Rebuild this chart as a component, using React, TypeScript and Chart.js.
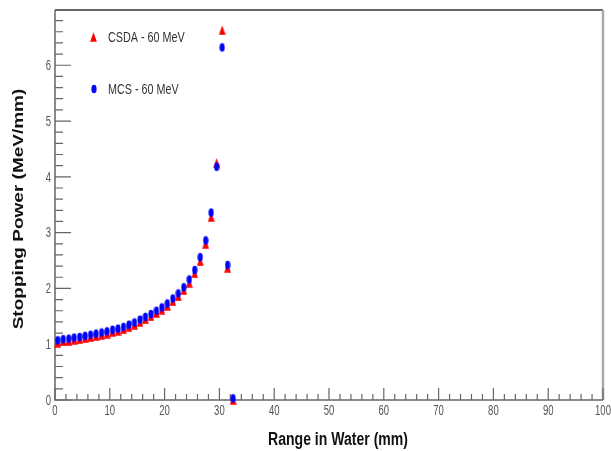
import React, { useEffect, useRef } from "react";
import { Chart, registerables } from "chart.js";

Chart.register(...registerables);

// Depth in water (mm), one sample per millimetre bin
const rangeMm = [
  0.5, 1.5, 2.5, 3.5, 4.5, 5.5, 6.5, 7.5, 8.5, 9.5, 10.5, 11.5, 12.5, 13.5, 14.5, 15.5, 16.5,
  17.5, 18.5, 19.5, 20.5, 21.5, 22.5, 23.5, 24.5, 25.5, 26.5, 27.5, 28.5, 29.5, 30.5, 31.5, 32.5,
];

// Stopping power (MeV/mm), continuous slowing down approximation
const csda60 = [
  1.03, 1.05, 1.06, 1.08, 1.09, 1.11, 1.13, 1.15, 1.17, 1.19, 1.22, 1.24, 1.27, 1.31, 1.35, 1.4, 1.45,
  1.5, 1.56, 1.62, 1.69, 1.77, 1.86, 1.97, 2.1, 2.27, 2.49, 2.8, 3.28, 4.25, 6.63, 2.37, 0.0,
];

// Stopping power (MeV/mm), multiple Coulomb scattering
const mcs60 = [
  1.07, 1.09, 1.1, 1.12, 1.13, 1.15, 1.17, 1.19, 1.21, 1.23, 1.26, 1.28, 1.31, 1.35, 1.39, 1.44, 1.49,
  1.54, 1.6, 1.66, 1.73, 1.82, 1.91, 2.02, 2.16, 2.33, 2.56, 2.86, 3.36, 4.18, 6.32, 2.42, 0.03,
];

const xMajorTicks = [0, 10, 20, 30, 40, 50, 60, 70, 80, 90, 100];
const yMajorTicks = [0, 1, 2, 3, 4, 5, 6];
const xMinorStep = 2;
const yMinorStep = 0.2;
const xMax = 100;
const yMax = 6.99;

const seriesLabels = ["CSDA - 60 MeV", "MCS - 60 MeV"];
const xTitle = "Range in Water (mm)";
const yTitle = "Stopping Power (MeV/mm)";

const RED = "#ff0000";
const BLUE = "#0000ff";

function makeEllipse(color: string): HTMLCanvasElement {
  const c = document.createElement("canvas");
  c.width = 6;
  c.height = 10;
  const g = c.getContext("2d")!;
  g.fillStyle = color;
  g.beginPath();
  g.ellipse(3, 5, 2.6, 4.3, 0, 0, Math.PI * 2);
  g.fill();
  return c;
}

function makeTriangle(color: string): HTMLCanvasElement {
  const c = document.createElement("canvas");
  c.width = 7;
  c.height = 10;
  const g = c.getContext("2d")!;
  g.fillStyle = color;
  g.beginPath();
  g.moveTo(3.5, 0.3);
  g.lineTo(6.9, 9.8);
  g.lineTo(0.1, 9.8);
  g.closePath();
  g.fill();
  return c;
}

function drawText(
  ctx: CanvasRenderingContext2D,
  text: string,
  x: number,
  y: number,
  opts: { font: string; color: string; sx: number; align: CanvasTextAlign; baseline: CanvasTextBaseline; rotate?: boolean }
) {
  ctx.save();
  ctx.translate(x, y);
  ctx.scale(opts.sx, 1);
  if (opts.rotate) ctx.rotate(-Math.PI / 2);
  ctx.font = opts.font;
  ctx.fillStyle = opts.color;
  ctx.textAlign = opts.align;
  ctx.textBaseline = opts.baseline;
  ctx.fillText(text, 0, 0);
  ctx.restore();
}

const frameAxesPlugin = {
  id: "frameAxes",
  beforeDatasetsDraw(chart: any) {
    const { ctx, chartArea: a } = chart;
    const xs = chart.scales.x;
    const ys = chart.scales.y;
    ctx.save();

    // top and right frame edges
    ctx.strokeStyle = "#333";
    ctx.lineWidth = 1.5;
    ctx.beginPath();
    ctx.moveTo(a.left, a.top);
    ctx.lineTo(a.right, a.top);
    ctx.stroke();
    ctx.strokeStyle = "#aaa";
    ctx.lineWidth = 2.5;
    ctx.beginPath();
    ctx.moveTo(a.right, a.top);
    ctx.lineTo(a.right, a.bottom);
    ctx.stroke();

    // axis lines
    ctx.strokeStyle = "#666";
    ctx.lineWidth = 1.5;
    ctx.beginPath();
    ctx.moveTo(a.left, a.top);
    ctx.lineTo(a.left, a.bottom);
    ctx.lineTo(a.right, a.bottom);
    ctx.stroke();

    // inward ticks on x
    ctx.lineWidth = 1.2;
    ctx.beginPath();
    for (let i = 0; i * xMinorStep <= xMax; i++) {
      const v = i * xMinorStep;
      const px = xs.getPixelForValue(v);
      const len = xMajorTicks.includes(v) ? 12 : 6;
      ctx.moveTo(px, a.bottom);
      ctx.lineTo(px, a.bottom - len);
    }
    // inward ticks on y
    for (let i = 0; i * yMinorStep <= yMax; i++) {
      const v = Math.round(i * yMinorStep * 10) / 10;
      const py = ys.getPixelForValue(v);
      const len = yMajorTicks.includes(v) ? 16 : 8;
      ctx.moveTo(a.left, py);
      ctx.lineTo(a.left + len, py);
    }
    ctx.stroke();

    // tick labels
    const tickFont = "14px 'Liberation Sans', Arial, sans-serif";
    xMajorTicks.forEach((v) => {
      drawText(ctx, String(v), xs.getPixelForValue(v), a.bottom + 4, {
        font: tickFont, color: "#555", sx: 0.68, align: "center", baseline: "top",
      });
    });
    yMajorTicks.forEach((v) => {
      drawText(ctx, String(v), a.left - 4, ys.getPixelForValue(v) + 1, {
        font: tickFont, color: "#555", sx: 0.68, align: "right", baseline: "middle",
      });
    });

    // axis titles
    drawText(ctx, xTitle, 338, 445, {
      font: "bold 18px 'Liberation Sans', Arial, sans-serif", color: "#111", sx: 0.78, align: "center", baseline: "alphabetic",
    });
    drawText(ctx, yTitle, 23, 209, {
      font: "bold 19px 'Liberation Sans', Arial, sans-serif", color: "#111", sx: 0.8, align: "center", baseline: "alphabetic", rotate: true,
    });
    ctx.restore();
  },
  afterDraw(chart: any) {
    const { ctx } = chart;
    const tri = makeTriangle(RED);
    const dot = makeEllipse(BLUE);
    ctx.drawImage(tri, 90, 32);
    ctx.drawImage(dot, 91, 84);
    const legendFont = "15px 'Liberation Sans', Arial, sans-serif";
    drawText(ctx, seriesLabels[0], 108, 38, { font: legendFont, color: "#333", sx: 0.72, align: "left", baseline: "middle" });
    drawText(ctx, seriesLabels[1], 108, 90, { font: legendFont, color: "#333", sx: 0.72, align: "left", baseline: "middle" });
  },
};

export default function App() {
  const canvasRef = useRef<HTMLCanvasElement | null>(null);

  useEffect(() => {
    const canvas = canvasRef.current;
    if (!canvas) return;
    const chart = new Chart(canvas, {
      type: "scatter",
      data: {
        datasets: [
          {
            label: seriesLabels[1],
            data: rangeMm.map((x, i) => ({ x, y: mcs60[i] })),
            pointStyle: makeEllipse(BLUE) as any,
            pointRadius: 4,
            backgroundColor: BLUE,
            borderColor: BLUE,
            order: 0,
            clip: false as any,
          },
          {
            label: seriesLabels[0],
            data: rangeMm.map((x, i) => ({ x, y: csda60[i] })),
            pointStyle: makeTriangle(RED) as any,
            pointRadius: 4,
            backgroundColor: RED,
            borderColor: RED,
            order: 1,
            clip: false as any,
          },
        ],
      },
      options: {
        animation: false,
        responsive: false,
        layout: { padding: { left: 55, top: 10, right: 8, bottom: 51 } },
        plugins: { legend: { display: false }, tooltip: { enabled: false } },
        scales: {
          x: { type: "linear", min: 0, max: xMax, display: false },
          y: { type: "linear", min: 0, max: yMax, display: false },
        },
      },
      plugins: [frameAxesPlugin],
    });
    return () => chart.destroy();
  }, []);

  return (
    <div style={{ position: "absolute", left: 0, top: 0, width: 611, height: 451, background: "#fff" }}>
      <canvas ref={canvasRef} width={611} height={451} style={{ display: "block", width: 611, height: 451 }} />
    </div>
  );
}
